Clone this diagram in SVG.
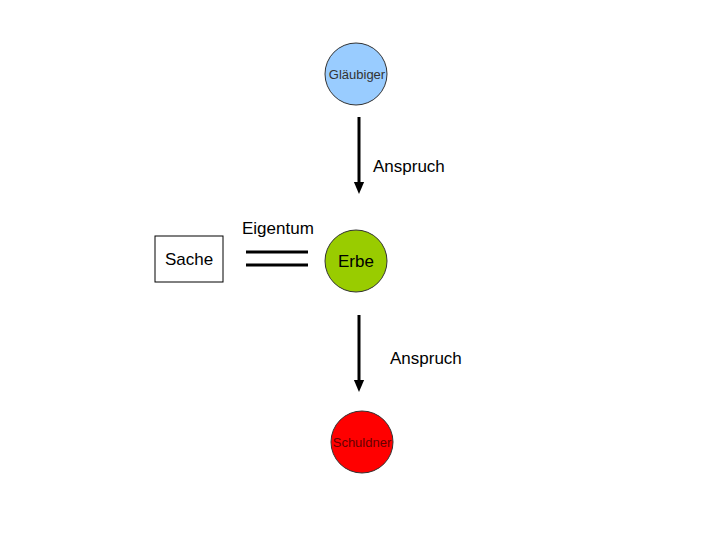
<svg xmlns="http://www.w3.org/2000/svg" width="720" height="540" viewBox="0 0 720 540">
<style>
text{font-family:"Liberation Sans",Arial,sans-serif;}
.n{stroke:#333;stroke-width:1}
.c{stroke:#000;stroke-width:3;fill:none}
</style>
<defs><marker id="a" markerWidth="4" markerHeight="4" refX="2" refY="2" orient="auto" markerUnits="strokeWidth"><path d="M0,0.3L4,2L0,3.7z" fill="#000"/></marker></defs>
<rect width="720" height="540" fill="#fff"/>
<g id="glaeubiger"><circle class="n" cx="356" cy="74" r="31" fill="#99ccff"/><text x="357" y="79" font-size="13" fill="#333" text-anchor="middle">Gläubiger</text></g>
<g id="erbe"><circle class="n" cx="356" cy="261" r="31" fill="#99cc00"/><text x="356" y="267" font-size="17" text-anchor="middle">Erbe</text></g>
<g id="schuldner"><circle class="n" cx="362" cy="442" r="31" fill="#ff0000"/><text x="362" y="447" font-size="13" fill="#660000" text-anchor="middle">Schuldner</text></g>
<g id="sache"><rect x="155" y="236" width="68" height="46" fill="#fff" stroke="#000"/><text x="189" y="265" font-size="17" text-anchor="middle">Sache</text></g>
<g id="connectors">
<line class="c" x1="359" y1="117" x2="359" y2="188" marker-end="url(#a)"/>
<line class="c" x1="359" y1="315" x2="359" y2="386" marker-end="url(#a)"/>
<line class="c" x1="246" y1="252" x2="308" y2="252"/>
<line class="c" x1="246" y1="265" x2="308" y2="265"/>
<text x="373" y="172" font-size="17">Anspruch</text>
<text x="390" y="364" font-size="17">Anspruch</text>
<text x="242" y="234" font-size="17">Eigentum</text>
</g>
</svg>
